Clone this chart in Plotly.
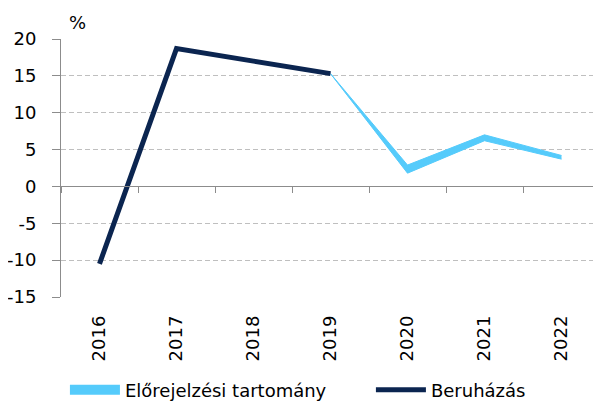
import plotly.graph_objects as go

years = ["2016", "2017", "2018", "2019", "2020", "2021", "2022"]
invest_years = ["2016", "2017", "2018", "2019"]
invest_values = [-10.5, 18.7, 17.0, 15.3]
fc_years = ["2019", "2020", "2021", "2022"]
fc_low = [15.3, 1.8, 6.2, 3.7]
fc_high = [15.3, 2.9, 7.0, 4.2]
y_ticks = [-15, -10, -5, 0, 5, 10, 15, 20]
y_tick_labels = ["-15", "-10", "-5", "0", "5", "10", "15", "20"]

NAVY = "#0B2550"
LIGHT = "#55CBFB"
GRID = "#BFBFBF"
AXIS = "#8C8C8C"
FONT = "DejaVu Sans"

fig = go.Figure()
fig.add_trace(go.Scatter(x=fc_years, y=fc_low, mode="lines",
                         line=dict(color=LIGHT, width=1), showlegend=False,
                         legendgroup="fc", hoverinfo="skip"))
fig.add_trace(go.Scatter(x=fc_years, y=fc_high, mode="lines", fill="tonexty",
                         fillcolor=LIGHT, line=dict(color=LIGHT, width=1),
                         showlegend=False, legendgroup="fc",
                         name="Előrejelzési tartomány"))
# legend entry for the forecast band
fig.add_trace(go.Scatter(x=[None], y=[None], mode="lines",
                         line=dict(color=LIGHT, width=15), legendgroup="fc",
                         name="Előrejelzési tartomány", legend="legend"))
fig.add_trace(go.Scatter(x=invest_years, y=invest_values, mode="lines",
                         line=dict(color=NAVY, width=5), name="Beruházás",
                         legend="legend2"))
# helper axis carrying the category-boundary ticks on the zero line
fig.add_trace(go.Scatter(x=years, y=[None] * len(years), xaxis="x2",
                         showlegend=False, hoverinfo="skip"))

legend_common = dict(orientation="h", xref="container", yref="container",
                     xanchor="left", y=0.033, yanchor="middle",
                     font=dict(size=18), itemwidth=50, traceorder="normal",
                     bgcolor="rgba(0,0,0,0)")

fig.update_layout(
    width=593, height=395,
    margin=dict(l=53, r=1, t=31, b=106, autoexpand=False),
    paper_bgcolor="white", plot_bgcolor="white",
    font=dict(family=FONT, size=18, color="#000000"),
    xaxis=dict(type="category", categoryorder="array", categoryarray=years,
               range=[-0.5, 6.5], tickangle=-90, ticks="",
               showgrid=False, zeroline=False, showline=False,
               automargin=False,
               ticklabelstandoff=14, tickfont=dict(size=18)),
    xaxis2=dict(type="category", categoryorder="array", categoryarray=years,
                range=[-0.5, 6.5], overlaying="x", anchor="free",
                position=15 / 35, showline=True, linecolor=AXIS, linewidth=1,
                ticks="outside", tickson="boundaries", ticklen=6,
                tickcolor=AXIS, showticklabels=False, showgrid=False,
                automargin=False),
    yaxis=dict(range=[-15, 20], tickvals=y_ticks, ticktext=y_tick_labels,
               showgrid=True,
               gridcolor=GRID, griddash="5px,3px", gridwidth=1,
               zeroline=False, showline=True, linecolor=AXIS, linewidth=1,
               ticks="outside", ticklen=8, tickcolor=AXIS, automargin=False,
               ticklabelstandoff=12, tickfont=dict(size=18)),
    legend=dict(x=0.096, **legend_common),
    legend2=dict(x=0.612, **legend_common),
    showlegend=True,
    annotations=[dict(text="%", xref="paper", yref="paper", x=0.012, y=1.112,
                      showarrow=False, font=dict(size=18))],
)

fig.write_html("out.html")
